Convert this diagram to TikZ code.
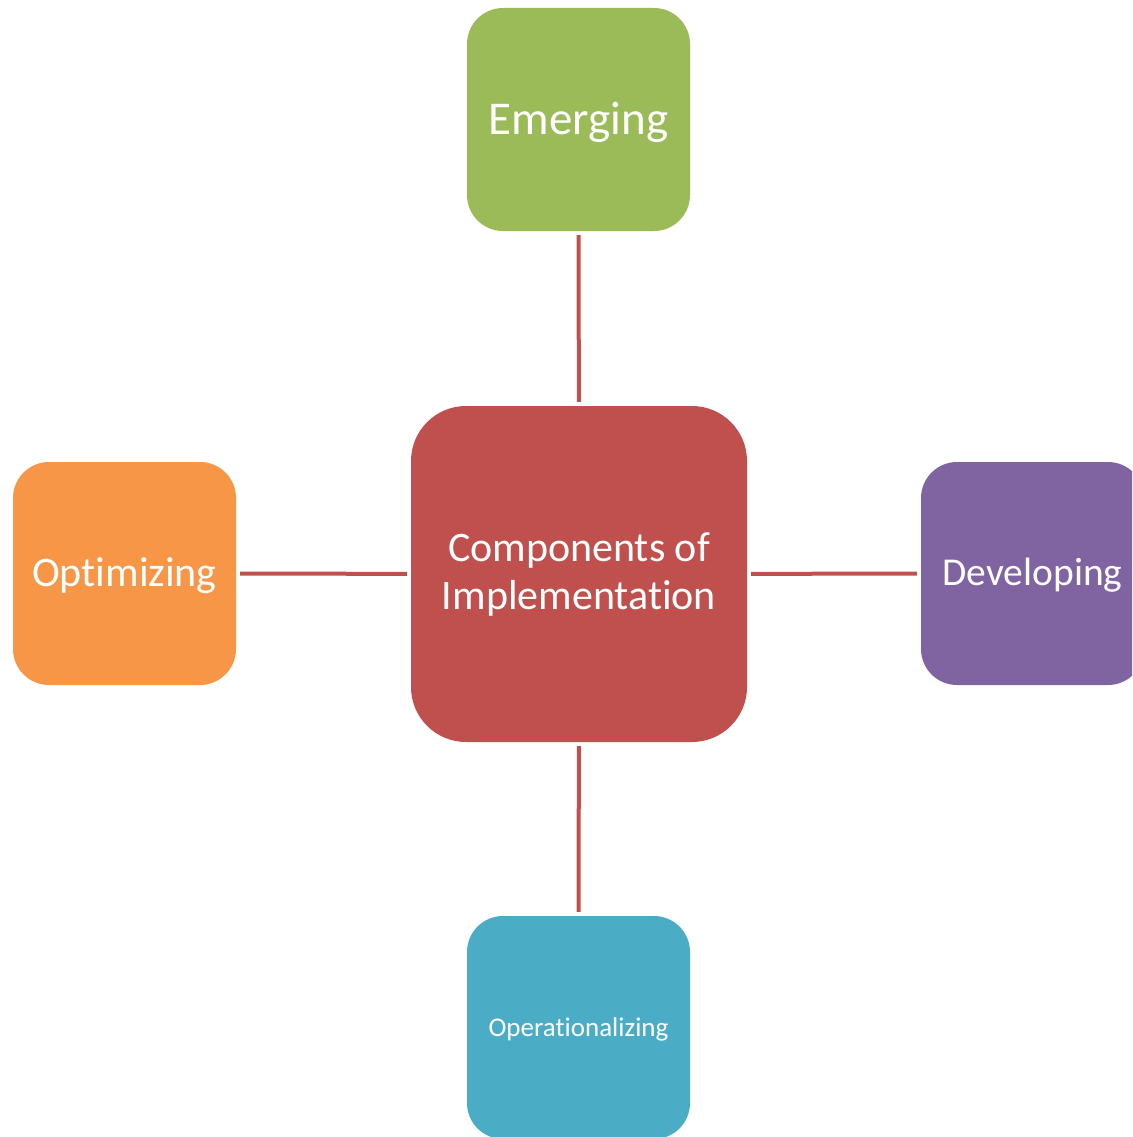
\documentclass[tikz,border=0pt]{standalone}
\usepackage{fontspec}
\setmainfont{Carlito}[Ligatures=NoCommon]
\definecolor{cgreen}{HTML}{9BBB59}
\definecolor{cred}{HTML}{C0504D}
\definecolor{cpurple}{HTML}{8064A2}
\definecolor{corange}{HTML}{F79646}
\definecolor{cblue}{HTML}{4BACC6}
\newcommand{\lowtext}[2]{\raisebox{-#1}[\height][\depth]{#2}}
\tikzset{
  box/.style={rectangle, rounded corners=36pt, minimum width=223pt, minimum height=223pt,
    inner sep=0pt, text=white, align=center},
  bigbox/.style={rectangle, rounded corners=55pt, minimum width=336pt, minimum height=336pt,
    inner sep=0pt, text=white, align=center},
  link/.style={draw=cred, line width=4pt, shorten >=4pt, shorten <=4pt}
}
\begin{document}
\begin{tikzpicture}[x=1pt,y=-1pt]
\useasboundingbox (0,0) rectangle (1132,1137);
\clip (0,0) rectangle (1132,1137);
\node[bigbox, fill=cred, font=\fontsize{42}{48}\selectfont] (c) at (579,574) {Components of\\Implementation};
\node[box, fill=cgreen, font=\fontsize{47}{54}\selectfont] (e) at (578.5,119.5) {\lowtext{3pt}{Emerging}};
\node[box, fill=corange, font=\fontsize{42}{48}\selectfont] (o) at (124.5,573.5) {\lowtext{2pt}{Optimizing}};
\node[box, fill=cpurple, font=\fontsize{39.5}{45}\selectfont] (d) at (1032.5,573.5) {\lowtext{2pt}{Developing}};
\node[box, fill=cblue, font=\fontsize{27}{32}\selectfont] (p) at (578.5,1027.5) {\lowtext{2pt}{Operationalizing}};
\draw[link] (e) -- (c);
\draw[link] (c) -- (p);
\draw[link] (o) -- (c);
\draw[link] (c) -- (d);
\end{tikzpicture}
\end{document}
